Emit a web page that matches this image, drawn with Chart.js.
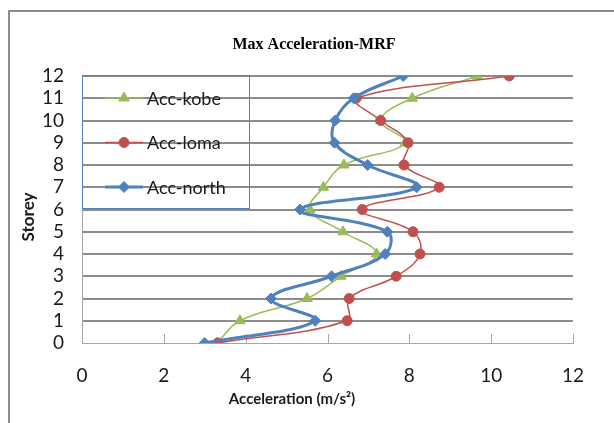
<!DOCTYPE html>
<html>
<head>
<meta charset="utf-8">
<title>Max Acceleration-MRF</title>
<script src="https://cdn.jsdelivr.net/npm/chart.js@4.4.1/dist/chart.umd.min.js"></script>
<style>
  html, body { margin: 0; padding: 0; background: #ffffff; }
  #wrap { width: 614px; height: 423px; position: relative; }
</style>
</head>
<body>
<div id="wrap"><canvas id="chart" width="614" height="423"></canvas></div>
<script>
// Storey levels and peak floor accelerations (m/s²) for each ground motion
const storeys   = [0, 1, 2, 3, 4, 5, 6, 7, 8, 9, 10, 11, 12];
const accKobe   = [3.30, 3.86, 5.50, 6.33, 7.20, 6.38, 5.57, 5.90, 6.40, 7.90, 7.30, 8.07, 9.66];
const accLoma   = [3.32, 6.48, 6.53, 7.68, 8.26, 8.09, 6.85, 8.73, 7.87, 7.97, 7.30, 6.70, 10.44];
const accNorth  = [3.00, 5.70, 4.62, 6.10, 7.41, 7.46, 5.33, 8.18, 6.98, 6.17, 6.19, 6.64, 7.85];

const seriesNames = ['Acc-kobe', 'Acc-loma', 'Acc-north'];
const xTickValues = [0, 2, 4, 6, 8, 10, 12];
const chartTitle = 'Max Acceleration-MRF';
const xTitle = 'Acceleration (m/s²)';
const yTitle = 'Storey';

const toPoints = (acc) => storeys.map((s, i) => ({ x: acc[i], y: s }));

const TICK_FONT = { family: 'Lato', size: 19 };
const GRID_GREY = '#8c8c8c';
const AXIS_GREY = '#a6a6a6';

// Small tick marks pointing up into the plot from the bottom axis
const innerTicks = {
  id: 'innerTicks',
  beforeDatasetsDraw(chart) {
    const { ctx, chartArea: a } = chart;
    const xs = chart.scales.x;
    ctx.save();
    ctx.strokeStyle = AXIS_GREY;
    ctx.lineWidth = 1;
    xTickValues.forEach(v => {
      const px = Math.round(xs.getPixelForValue(v)) + 0.5;
      ctx.beginPath();
      ctx.moveTo(px, a.bottom - 9);
      ctx.lineTo(px, a.bottom);
      ctx.stroke();
    });
    ctx.restore();
  }
};

// Boxed legend placed in the upper-left corner of the plot
const boxLegend = {
  id: 'boxLegend',
  afterDatasetsDraw(chart) {
    const { ctx, chartArea: a } = chart;
    ctx.save();
    ctx.strokeStyle = '#4f81bd';
    ctx.lineWidth = 1;
    ctx.strokeRect(Math.round(a.left) + 0.5, Math.round(a.top) - 0.5, 167, 133);
    chart.data.datasets.forEach((ds, i) => {
      const y = a.top + 22 + i * 44.5;
      ctx.strokeStyle = ds.borderColor;
      ctx.lineWidth = ds.borderWidth;
      ctx.beginPath();
      ctx.moveTo(a.left + 23, y);
      ctx.lineTo(a.left + 61, y);
      ctx.stroke();
      ctx.fillStyle = ds.pointBackgroundColor;
      ctx.strokeStyle = ds.pointBorderColor;
      ctx.lineWidth = 1;
      Chart.helpers.drawPoint(ctx, {
        pointStyle: ds.pointStyle, radius: ds.pointRadius, rotation: 0, borderWidth: 1
      }, a.left + 42, y);
      ctx.fillStyle = '#1a1a1a';
      ctx.font = '18px Lato';
      ctx.textAlign = 'left';
      ctx.textBaseline = 'middle';
      ctx.fillText(ds.label, a.left + 65, y + 1);
    });
    ctx.restore();
  }
};

// Chart title, axis titles and the outer frame
const annotations = {
  id: 'annotations',
  afterDraw(chart) {
    const { ctx } = chart;
    ctx.save();
    ctx.strokeStyle = GRID_GREY;
    ctx.lineWidth = 2;
    ctx.beginPath();
    ctx.moveTo(9, 423);
    ctx.lineTo(9, 11);
    ctx.lineTo(614, 11);
    ctx.stroke();

    ctx.fillStyle = '#000000';
    ctx.textAlign = 'center';
    ctx.textBaseline = 'alphabetic';
    ctx.font = 'bold 16px "Liberation Serif"';
    ctx.fillText(chartTitle, 314, 49);

    ctx.fillStyle = '#1a1a1a';
    ctx.font = 'bold 15px Lato';
    ctx.fillText(xTitle, 292, 404);

    ctx.font = 'bold 17px Lato';
    ctx.translate(34, 217);
    ctx.rotate(-Math.PI / 2);
    ctx.fillText(yTitle, 0, 0);
    ctx.restore();
  }
};

new Chart(document.getElementById('chart'), {
  type: 'scatter',
  data: {
    datasets: [
      {
        label: seriesNames[0],
        data: toPoints(accKobe),
        showLine: true,
        tension: 0.4,
        borderColor: '#9bbb59',
        borderWidth: 1.5,
        pointStyle: 'triangle',
        pointRadius: 6,
        pointBackgroundColor: '#9bbb59',
        pointBorderColor: '#9bbb59',
        pointBorderWidth: 1,
        order: 2
      },
      {
        label: seriesNames[1],
        data: toPoints(accLoma),
        showLine: true,
        tension: 0.4,
        borderColor: '#c0504d',
        borderWidth: 1.5,
        pointStyle: 'circle',
        pointRadius: 5,
        pointBackgroundColor: '#c0504d',
        pointBorderColor: '#c0504d',
        pointBorderWidth: 1,
        order: 1
      },
      {
        label: seriesNames[2],
        data: toPoints(accNorth),
        showLine: true,
        tension: 0.4,
        borderColor: '#4f81bd',
        borderWidth: 3,
        pointStyle: 'rectRot',
        pointRadius: 5.5,
        pointBackgroundColor: '#4f81bd',
        pointBorderColor: '#4f81bd',
        pointBorderWidth: 1,
        order: 0
      }
    ]
  },
  options: {
    responsive: false,
    animation: false,
    events: [],
    layout: { padding: { left: 0, top: 76, right: 41, bottom: 0 } },
    plugins: {
      legend: { display: false },
      title: { display: false },
      tooltip: { enabled: false }
    },
    scales: {
      x: {
        type: 'linear',
        min: 0,
        max: 12,
        afterFit(scale) { scale.height = 80; },
        afterBuildTicks(scale) { scale.ticks = xTickValues.map(v => ({ value: v })); },
        ticks: { font: TICK_FONT, color: '#1a1a1a', padding: 21, maxRotation: 0, autoSkip: false },
        grid: { display: false, drawTicks: false },
        border: { display: true, color: AXIS_GREY, width: 1 }
      },
      y: {
        type: 'linear',
        min: 0,
        max: 12,
        afterFit(scale) { scale.width = 82; },
        afterBuildTicks(scale) { scale.ticks = storeys.map(v => ({ value: v })); },
        ticks: { font: TICK_FONT, color: '#1a1a1a', padding: 18, autoSkip: false },
        grid: {
          drawTicks: false,
          color: (c) => (c.tick && c.tick.value === 0) ? 'rgba(0,0,0,0)' : GRID_GREY,
          lineWidth: 2
        },
        border: { display: true, color: AXIS_GREY, width: 1 }
      }
    }
  },
  plugins: [innerTicks, boxLegend, annotations]
});
</script>
</body>
</html>
